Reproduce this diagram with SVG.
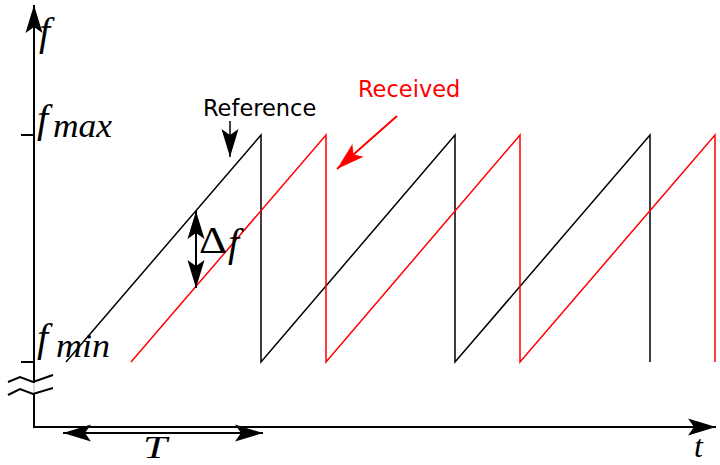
<svg xmlns="http://www.w3.org/2000/svg" width="720" height="465" viewBox="0 0 720 465">
<style>
.ax{stroke:#000;stroke-width:2;fill:none}
.ref{stroke:#000;stroke-width:1.5;fill:none;stroke-linejoin:miter}
.rcv{stroke:#ff0000;stroke-width:1.5;fill:none}
.math{font-family:"Liberation Serif","Times New Roman",serif;font-style:italic;fill:#000}
.up{font-family:"Liberation Serif","Times New Roman",serif;fill:#000}
.lbl{font-family:"DejaVu Sans",sans-serif;font-size:22.5px}
</style>
<defs>
<marker id="ah" markerUnits="userSpaceOnUse" markerWidth="40" markerHeight="24" viewBox="-30 -12 32 24" refX="0" refY="0" orient="auto-start-reverse">
<path d="M0,0 L-28,-8.5 L-22,0 L-28,8.5 Z" fill="#000"/>
</marker>
<marker id="ahr" markerUnits="userSpaceOnUse" markerWidth="40" markerHeight="24" viewBox="-30 -12 32 24" refX="0" refY="0" orient="auto">
<path d="M0,0 L-28,-8.5 L-22,0 L-28,8.5 Z" fill="#ff0000"/>
</marker>
</defs>

<g id="axes">
<line class="ax" x1="34" y1="383" x2="34" y2="5" marker-end="url(#ah)"/>
<line x1="34" y1="383" x2="34" y2="394" stroke="#dddddd" stroke-width="2"/>
<polyline class="ax" points="34,393 34,427 716,427" marker-end="url(#ah)"/>
<line class="ax" x1="21" y1="135" x2="34" y2="135"/>
<line class="ax" x1="21" y1="362" x2="34" y2="362"/>
<polyline class="ax" points="8,382 20,377 33,382 53,375"/>
<polyline class="ax" points="8,395 20,389 33,394 53,388"/>
</g>

<g id="axis-labels">
<text class="math" x="39" y="45" font-size="40">f</text>
<text class="math" x="694" y="457" font-size="32">t</text>
<g id="fmax">
<text class="math" x="37" y="132" font-size="40">f</text>
<text class="math" x="53" y="137" font-size="33" textLength="59" lengthAdjust="spacingAndGlyphs">max</text>
</g>
<g id="fmin">
<text class="math" x="37" y="351" font-size="40">f</text>
<text class="math" x="56" y="357" font-size="33" textLength="54" lengthAdjust="spacingAndGlyphs">min</text>
</g>
</g>

<g id="reference-signal">
<polyline class="ref" points="66,362 261,135 261,362 455,135 455,362 650,135 650,362"/>
</g>
<g id="received-signal">
<polyline class="rcv" points="131,362 326,135 326,362 520,135 520,362 715,135 715,362"/>
</g>

<g id="connectors">
<line x1="230" y1="121" x2="230" y2="157" stroke="#000" stroke-width="1.5" marker-end="url(#ah)"/>
<line x1="397" y1="116" x2="337" y2="169" stroke="#ff0000" stroke-width="2" marker-end="url(#ahr)"/>
<line x1="196" y1="211" x2="196" y2="288" stroke="#000" stroke-width="2" marker-start="url(#ah)" marker-end="url(#ah)"/>
<line x1="63" y1="433" x2="263" y2="433" stroke="#000" stroke-width="2" marker-start="url(#ah)" marker-end="url(#ah)"/>
</g>

<g id="label-reference"><text class="lbl" x="203" y="116" fill="#000">Reference</text></g>
<g id="label-received"><text class="lbl" x="358" y="97" fill="#ff0000">Received</text></g>
<g id="label-delta-f">
<text class="up" x="199" y="253" font-size="37" textLength="28" lengthAdjust="spacingAndGlyphs">Δ</text>
<text class="math" x="228" y="256" font-size="40">f</text>
</g>
<g id="label-T"><text class="math" x="143" y="458" font-size="32" textLength="24" lengthAdjust="spacingAndGlyphs">T</text></g>
</svg>
